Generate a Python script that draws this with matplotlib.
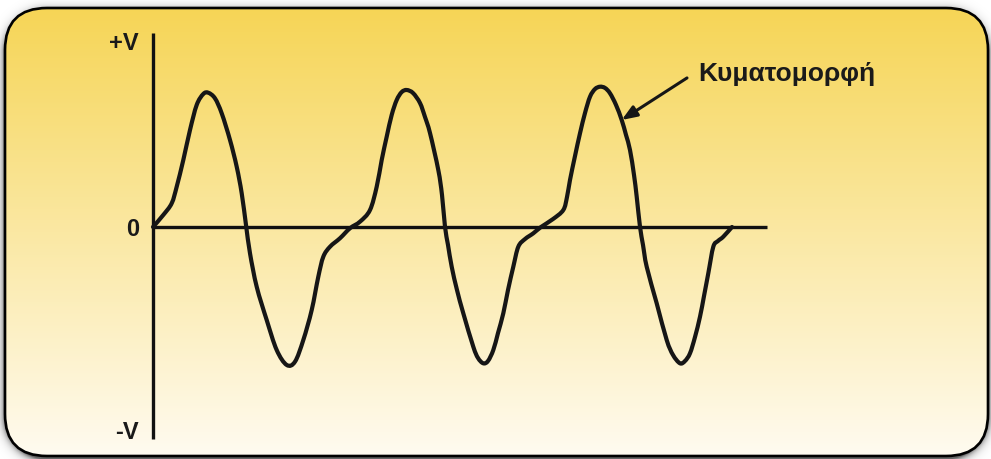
import numpy as np
import matplotlib
matplotlib.use("Agg")
import matplotlib.pyplot as plt
from matplotlib.patches import FancyBboxPatch, PathPatch
from matplotlib.path import Path

plt.rcParams['font.family'] = ['Liberation Sans', 'DejaVu Sans']

# Waveform samples: time (ms) and voltage (normalised to peak)
time_ms = [
    0.0, 1.03, 1.87, 2.37, 3.03, 3.7, 4.37, 5.03, 5.53, 6.2, 6.87, 7.7, 8.37, 8.87,
    9.3, 9.7, 10.37, 11.37, 12.37, 13.37, 14.2, 15.03, 15.87, 16.53, 17.03, 17.7,
    18.7, 19.7, 20.7,
    21.7, 22.37, 22.87, 23.37, 23.87, 24.37, 24.87, 25.37, 26.0, 26.7, 27.2, 27.7,
    28.53, 28.9, 29.2, 29.5, 29.87, 30.4, 31.03, 32.03, 32.5, 33.03, 33.5, 34.03,
    34.5, 35.03, 35.5, 36.03, 36.53, 37.2, 38.03, 38.8,
    40.0, 41.03, 41.4, 41.7, 42.2, 42.7, 43.2, 43.7, 44.2, 44.7, 45.2, 45.7, 46.3,
    46.87, 47.3, 47.7, 48.1, 48.37, 48.7, 49.0, 49.37, 50.37, 51.37,
    52.0, 52.7, 53.2, 53.7, 54.2, 54.7, 55.1, 55.53, 56.03, 56.5, 57.03, 57.9,
]
volts = [
    0.0, 0.088, 0.173, 0.294, 0.489, 0.708, 0.891, 0.971, 0.980, 0.939, 0.830, 0.635,
    0.440, 0.246, 0.015, -0.192, -0.436, -0.679, -0.898, -1.007, -0.983, -0.825,
    -0.606, -0.363, -0.217, -0.144, -0.082, -0.009, 0.039,
    0.124, 0.294, 0.489, 0.659, 0.818, 0.927, 0.985, 1.0, 0.978, 0.905, 0.803, 0.686,
    0.416, 0.234, 0.002, -0.131, -0.290, -0.460, -0.630, -0.874, -0.956, -0.995,
    -0.978, -0.898, -0.774, -0.630, -0.460, -0.290, -0.144, -0.088, -0.046, 0.0,
    0.058, 0.124, 0.219, 0.343, 0.518, 0.684, 0.832, 0.951, 1.007, 1.024, 1.015,
    0.976, 0.891, 0.781, 0.672, 0.562, 0.380, 0.221, 0.002, -0.131, -0.290,
    -0.557, -0.825, -0.934, -0.995, -0.978, -0.922, -0.803, -0.655, -0.504,
    -0.338, -0.144, -0.102, -0.071, 0.0,
]

y_tick_values = [1.36, 0.0, -1.48]
y_tick_labels = ["+V", "0", "-V"]
time_axis_end = 61.4
v_axis_top, v_axis_bottom = 1.416, -1.547

label_text = "Κυματομορφή"
arrow_tip = (46.87, 0.781)
arrow_tail = (53.4, 1.088)
label_pos = (54.5, 1.115)


def smooth_path(xs, ys, tension=0.5):
    """Cubic Bezier path through every sample (Catmull-Rom tangents)."""
    pts = np.column_stack([xs, ys]).astype(float)
    n = len(pts)
    verts = [pts[0]]
    codes = [Path.MOVETO]
    for i in range(n - 1):
        p0 = pts[max(i - 1, 0)]
        p1 = pts[i]
        p2 = pts[i + 1]
        p3 = pts[min(i + 2, n - 1)]
        c1 = p1 + (p2 - p0) * tension / 3.0
        c2 = p2 - (p3 - p1) * tension / 3.0
        verts += [c1, c2, p2]
        codes += [Path.CURVE4] * 3
    return Path(np.array(verts), codes)


W, H = 991, 459
fig = plt.figure(figsize=(W / 100, H / 100), dpi=100)
fig.patch.set_facecolor("white")

# ---- decorative panel: shadow, gradient fill and rounded border ----
bg = fig.add_axes([0, 0, 1, 1])
bg.set_xlim(0, W)
bg.set_ylim(H, 0)
bg.axis("off")

x0, y0, x1, y1, rad = 5.0, 8.0, 988.0, 456.0, 42.0

yy, xx = np.mgrid[0:H, 0:W] + 0.5
cx, cy = (x0 + x1) / 2, (y0 + y1) / 2 + 3.0
hx, hy = (x1 - x0) / 2, (y1 - y0) / 2
qx = np.abs(xx - cx) - (hx - rad)
qy = np.abs(yy - cy) - (hy - rad)
dist = np.hypot(np.maximum(qx, 0), np.maximum(qy, 0)) + np.minimum(np.maximum(qx, qy), 0) - rad
shadow_alpha = np.where(dist > 0, 0.6 * np.exp(-dist / 3.5), 0.6)
shadow = np.zeros((H, W, 4))
shadow[..., 3] = shadow_alpha
bg.imshow(shadow, extent=(0, W, H, 0), interpolation="bilinear", zorder=0)

panel = FancyBboxPatch((x0, y0), x1 - x0, y1 - y0,
                       boxstyle=f"round,pad=0,rounding_size={rad}",
                       facecolor="none", edgecolor="black", linewidth=1.9, zorder=3)
bg.add_patch(panel)

top_rgb = np.array([246, 213, 86]) / 255
bot_rgb = np.array([255, 251, 240]) / 255
f = np.linspace(0, 1, 256)[:, None, None]
grad = top_rgb[None, None, :] * (1 - f) + bot_rgb[None, None, :] * f
img = bg.imshow(grad, extent=(x0, x1, y1, y0), aspect="auto",
                interpolation="bilinear", zorder=1)
img.set_clip_path(panel)

# ---- waveform axes ----
ax = fig.add_axes([0, 0, 1, 1])
ax.set_zorder(2)
ax.patch.set_alpha(0)
ax.set_xlim((0 - 153) / 10, (W - 153) / 10)
ax.set_ylim((227 - H) / 137, 227 / 137)

for side in ("top", "right"):
    ax.spines[side].set_visible(False)
ax.spines["left"].set_position(("data", 0))
ax.spines["bottom"].set_position(("data", 0))
ax.spines["left"].set_bounds(v_axis_bottom, v_axis_top)
ax.spines["bottom"].set_bounds(0, time_axis_end)
for side in ("left", "bottom"):
    ax.spines[side].set_linewidth(2.4)
    ax.spines[side].set_color("#111111")
    ax.spines[side].set_capstyle("butt")

ax.set_xticks([])
ax.set_yticks(y_tick_values)
ax.set_yticklabels(y_tick_labels, fontsize=17, fontweight="bold", color="#1a1a1a")
ax.tick_params(axis="y", length=0, pad=10)

ax.add_patch(PathPatch(smooth_path(time_ms, volts), facecolor="none",
                       edgecolor="#161616", linewidth=3.0, joinstyle="round",
                       capstyle="round", transform=ax.transData, zorder=4))

ax.annotate("", xy=arrow_tip, xytext=arrow_tail,
            arrowprops=dict(arrowstyle="-|>,head_length=0.9,head_width=0.35",
                            color="#161616", lw=2.2, shrinkA=0, shrinkB=0))
ax.text(label_pos[0], label_pos[1], label_text, fontsize=19, fontweight="bold",
        color="#1a1a1a", ha="left", va="center")

fig.savefig("out.png", dpi=100)
